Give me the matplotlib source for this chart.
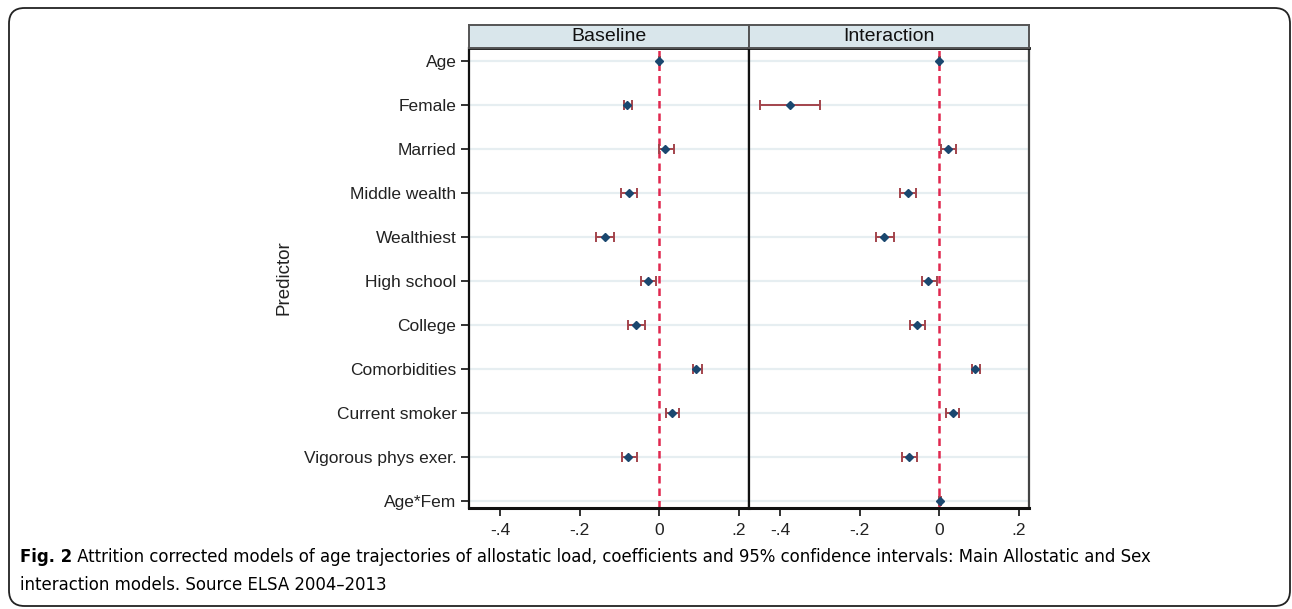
import numpy as np
import matplotlib
matplotlib.use("Agg")
from matplotlib import pyplot as plt
from matplotlib.patches import FancyBboxPatch

## Dati

predictors = ["Age", "Female", "Married", "Middle wealth", "Wealthiest", "High school",
              "College", "Comorbidities", "Current smoker", "Vigorous phys exer.", "Age*Fem"]
panels = ["Baseline", "Interaction"]

# Baseline: niente Age*Fem
base_coef = [0.000, -0.081, 0.015, -0.077, -0.136, -0.028, -0.058, 0.093, 0.032, -0.078]
base_lo = [-0.002, -0.090, 0.000, -0.096, -0.158, -0.046, -0.079, 0.085, 0.016, -0.093]
base_hi = [0.002, -0.068, 0.037, -0.055, -0.115, -0.009, -0.036, 0.106, 0.050, -0.055]

# Interaction
int_coef = [0.000, -0.376, 0.022, -0.080, -0.139, -0.028, -0.057, 0.090, 0.033, -0.077, 0.001]
int_lo = [-0.002, -0.450, 0.003, -0.099, -0.158, -0.043, -0.075, 0.082, 0.017, -0.095, -0.001]
int_hi = [0.002, -0.299, 0.041, -0.058, -0.114, -0.006, -0.035, 0.103, 0.050, -0.057, 0.003]

xticks = [-0.4, -0.2, 0, 0.2]
xticklabels = ["-.4", "-.2", "0", ".2"]

caption_bold = "Fig. 2"
caption_1 = " Attrition corrected models of age trajectories of allostatic load, coefficients and 95% confidence intervals: Main Allostatic and Sex"
caption_2 = "interaction models. Source ELSA 2004\u20132013"

## Stile

plt.rcParams['font.family'] = ['Liberation Sans', 'DejaVu Sans']
navy = "#1a476f"
maroon = "#a3444c"
crimson = "#e0284f"
gridcol = "#e6eef1"
stripcol = "#d9e6eb"

W, H = 1292, 609
fig = plt.figure(figsize=(W / 100, H / 100), dpi=100)

def fx(px):
    return px / W

def fy(py):
    return 1 - py / H

## Bordo arrotondato della figura

border = FancyBboxPatch((fx(9), fy(606)), fx(1290) - fx(9), fy(8) - fy(606),
                        boxstyle="round,pad=0,rounding_size=0.012",
                        transform=fig.transFigure, fill=False, ec="#222222", lw=1.3,
                        mutation_aspect=W / H)
fig.patches.append(border)

## Pannelli

left0, right0, right1 = 469, 749, 1029
top, bottom, strip_top = 48, 508, 25
y = np.arange(len(predictors))

data = [(base_coef, base_lo, base_hi), (int_coef, int_lo, int_hi)]
edges = [(left0, right0), (right0, right1)]

for i, (name, (coef, lo, hi), (l, r)) in enumerate(zip(panels, data, edges)):
    ax = fig.add_axes([fx(l), fy(bottom), fx(r) - fx(l), fy(top) - fy(bottom)])
    for yy in y:
        ax.axhline(yy, color=gridcol, lw=1.6, zorder=0)
    coef = np.array(coef)
    lo = np.array(lo)
    hi = np.array(hi)
    yp = y[:len(coef)]
    ax.axvline(0, color=crimson, lw=1.8, ls=(0, (3, 2)), zorder=1)
    ax.errorbar(coef, yp, xerr=[coef - lo, hi - coef], fmt="none", ecolor=maroon,
                elinewidth=1.4, capsize=3.5, capthick=1.4, zorder=2)
    ax.plot(coef, yp, "D", color=navy, ms=4.2, zorder=3)
    ax.set_xlim(-0.478, 0.225)
    ax.set_ylim(len(predictors) - 1 + 7 / 44, -13 / 44)
    ax.set_xticks(xticks)
    ax.set_xticklabels(xticklabels, fontsize=12.5, color="#222222")
    ax.tick_params(axis="x", length=6, width=1.3, pad=5, color="#222222")
    for s in ax.spines.values():
        s.set_linewidth(1.6)
        s.set_color("#111111")
    ax.spines["bottom"].set_linewidth(2.2)
    ax.spines["top"].set_linewidth(2.0)
    if i == 0:
        ax.set_yticks(y)
        ax.set_yticklabels(predictors, fontsize=12.5, color="#222222")
        ax.tick_params(axis="y", length=6, width=1.3, pad=3, color="#222222")
        ax.set_ylabel("Predictor", fontsize=13.5, color="#222222", labelpad=8)
    else:
        ax.set_yticks([])
        ax.spines["right"].set_color("#444444")

    # intestazione del pannello
    sax = fig.add_axes([fx(l), fy(top), fx(r) - fx(l), fy(strip_top) - fy(top)])
    sax.set_facecolor(stripcol)
    sax.set_xticks([])
    sax.set_yticks([])
    for s in sax.spines.values():
        s.set_linewidth(1.4)
        s.set_color("#555555")
    sax.text(0.5, 0.5, name, ha="center", va="center", fontsize=14,
             color="#111111", transform=sax.transAxes)

## Didascalia

cap_font = ['DejaVu Sans', 'Liberation Sans']
t = fig.text(fx(20), fy(557), caption_bold, fontsize=13.2, fontweight="bold",
             family=cap_font, stretch="condensed", va="center", ha="left")
fig.canvas.draw()
bb = t.get_window_extent()
fig.text(bb.x1 / W, fy(557), caption_1, fontsize=13.2, family=cap_font,
         stretch="condensed", va="center", ha="left")
fig.text(fx(20), fy(585), caption_2, fontsize=13.2, family=cap_font,
         stretch="condensed", va="center", ha="left")

fig.savefig("out.png", dpi=100)
